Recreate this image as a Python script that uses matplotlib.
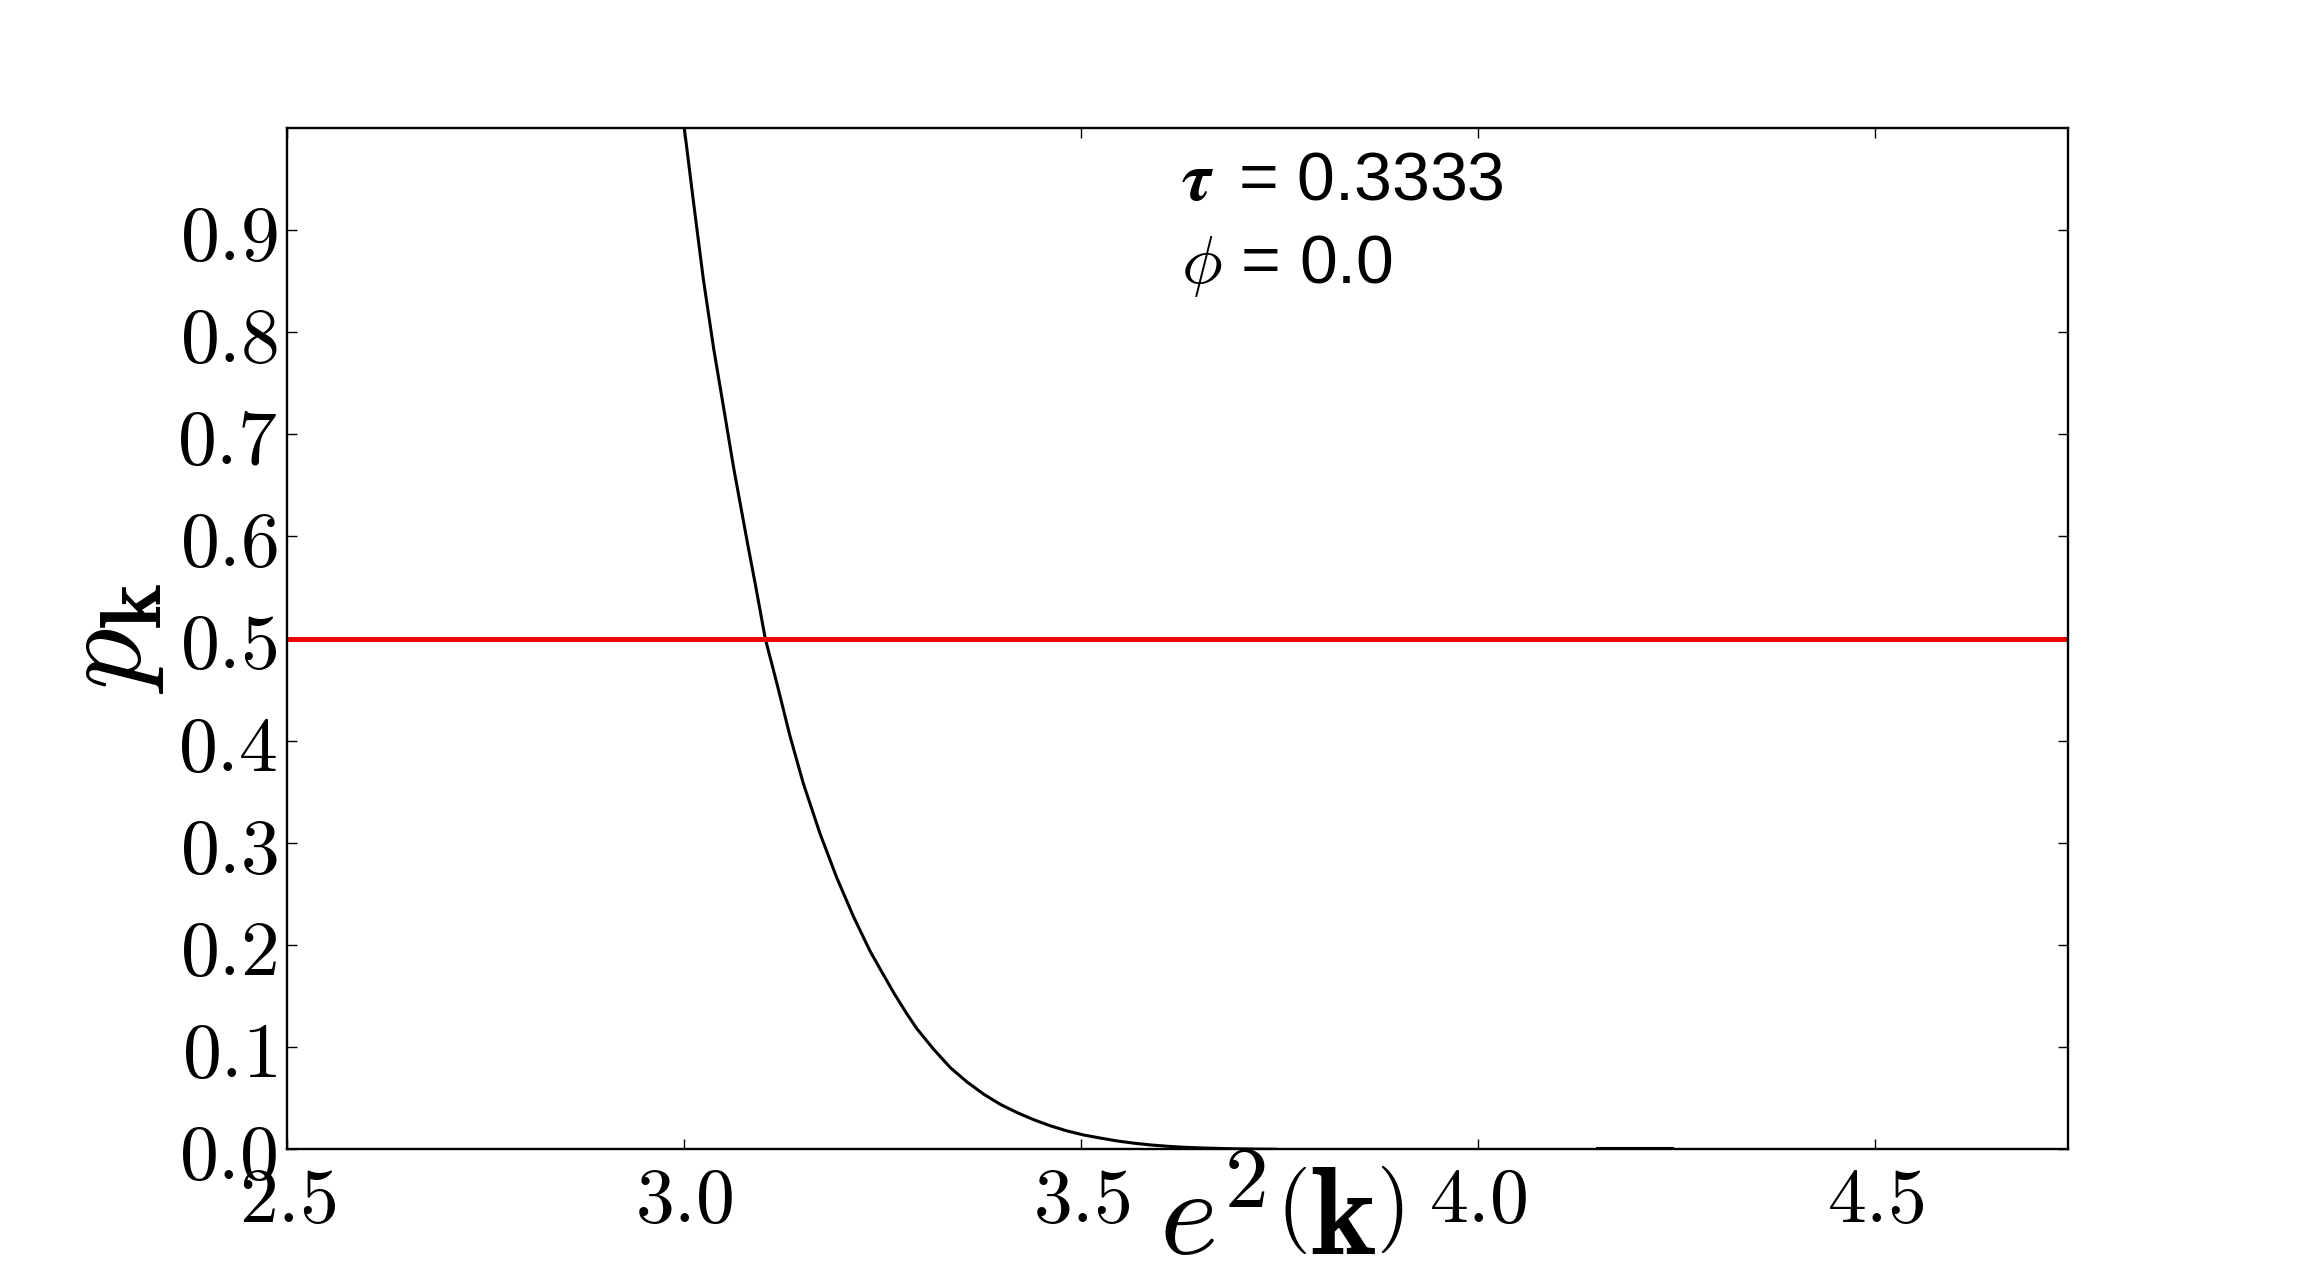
import matplotlib
matplotlib.use("Agg")
import matplotlib.pyplot as plt
from matplotlib.ticker import FuncFormatter

plt.rcParams['mathtext.fontset'] = 'cm'

# Data
e2_main = [3.000, 3.012, 3.024, 3.037, 3.050, 3.062, 3.079, 3.090, 3.102, 3.117,
           3.133, 3.150, 3.171, 3.192, 3.213, 3.234, 3.250, 3.264, 3.280, 3.293,
           3.314, 3.335, 3.356, 3.377, 3.398, 3.419, 3.440, 3.461, 3.482, 3.503,
           3.524, 3.545, 3.566, 3.587, 3.608, 3.629, 3.650, 3.671, 3.692, 3.720,
           3.746]
p_main = [1.000, 0.925, 0.852, 0.784, 0.724, 0.668, 0.596, 0.551, 0.500, 0.455,
          0.405, 0.358, 0.309, 0.266, 0.228, 0.194, 0.172, 0.153, 0.133, 0.118,
          0.098, 0.080, 0.066, 0.054, 0.044, 0.036, 0.029, 0.023, 0.018, 0.014,
          0.011, 0.0082, 0.0060, 0.0043, 0.0030, 0.0020, 0.0014, 0.0009, 0.0005, 0.0002,
          0.0]
e2_tail = [4.150, 4.244]
p_tail = [0.001, 0.001]
threshold = 0.5
x_ticks = [2.5, 3.0, 3.5, 4.0, 4.5]
y_ticks = [0.0, 0.1, 0.2, 0.3, 0.4, 0.5, 0.6, 0.7, 0.8, 0.9]
tau_text = r'$\boldsymbol{\tau}\,$ = 0.3333'
phi_text = r'$\phi$ = 0.0'

fig = plt.figure(figsize=(22.98, 12.77), dpi=100)
fig.patch.set_facecolor('white')
ax = fig.add_axes([0.125, 0.1, 0.775, 0.8])

ax.plot(e2_main, p_main, color='black', lw=2.2, solid_joinstyle='round')
ax.plot(e2_tail, p_tail, color='black', lw=2.2)
ax.axhline(threshold, color='#ee0000', lw=3.6)

ax.set_xlim(2.5, 4.743)
ax.set_ylim(0.0, 1.0)
ax.set_xticks(x_ticks)
ax.set_yticks(y_ticks)
fmt = FuncFormatter(lambda v, pos: r'$%.1f$' % v)
ax.xaxis.set_major_formatter(fmt)
ax.yaxis.set_major_formatter(fmt)
ax.tick_params(direction='in', top=True, right=True, length=7, width=1,
               labelsize=56, color='black')
ax.tick_params(axis='x', pad=9)
ax.tick_params(axis='y', pad=7)
for s in ax.spines.values():
    s.set_linewidth(1.7)

ax.set_xlabel(r'$e^2\left(\mathbf{k}\right)$', fontsize=90)
ax.xaxis.set_label_coords(0.558, -0.01)
ax.set_ylabel(r'$p_{\mathbf{k}}$', fontsize=88, va='center')
ax.yaxis.set_label_coords(-0.101, 0.5)

ax.text(3.626, 0.929, tau_text, fontsize=49, family='Liberation Sans', va='baseline')
ax.text(3.626, 0.848, phi_text, fontsize=49, family='Liberation Sans', va='baseline')

fig.savefig('out.png', dpi=100, facecolor='white')
